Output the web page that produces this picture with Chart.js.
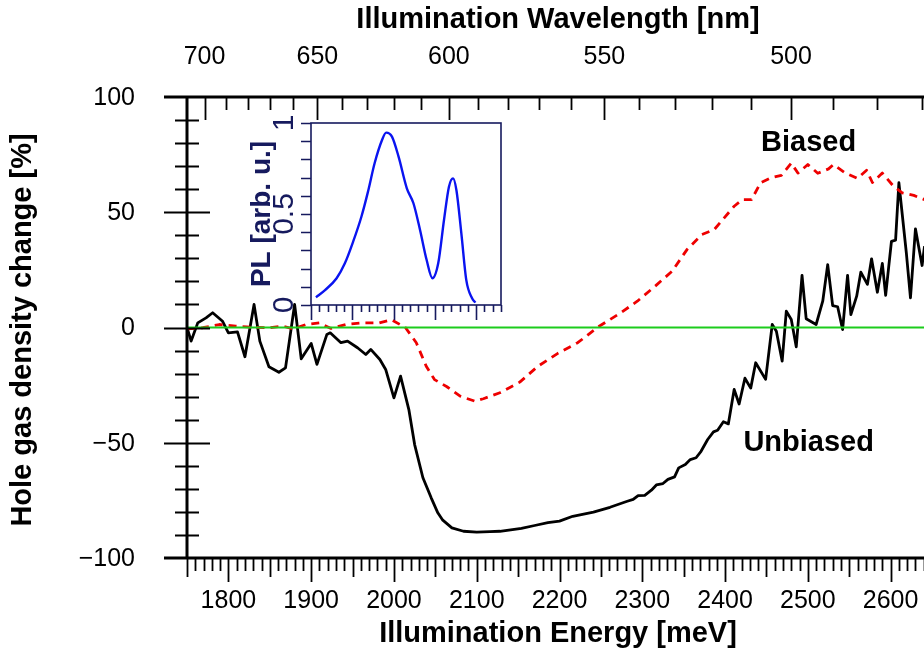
<!DOCTYPE html>
<html>
<head>
<meta charset="utf-8">
<script src="https://cdn.jsdelivr.net/npm/chart.js@4.4.1/dist/chart.umd.min.js"></script>
<style>
  html, body { margin: 0; padding: 0; background: #fff; overflow: hidden; }
  #wrap { position: relative; width: 960px; height: 651px; }
  #mainChart { position: absolute; left: 0; top: 0; }
  #plChart { position: absolute; left: 230px; top: 100px; }
</style>
</head>
<body>
<div id="wrap">
  <canvas id="mainChart" width="960" height="651"></canvas>
  <canvas id="plChart" width="290" height="240"></canvas>
</div>
<script>
// Unbiased sample (black): illumination energy [meV] and density change [%]
const unbiasedEnergy = [1750, 1755, 1763, 1773, 1781, 1793, 1800, 1811, 1820, 1831, 1838, 1849, 1861, 1869,
  1880, 1888, 1900, 1907, 1919, 1923, 1936, 1944, 1956, 1966, 1972, 1983, 1990, 2000, 2008, 2018, 2025,
  2035, 2045, 2053, 2059, 2070, 2084, 2100, 2116, 2128, 2154, 2170, 2186, 2200, 2216, 2241, 2261, 2281,
  2289, 2295, 2303, 2311, 2317, 2325, 2331, 2339, 2344, 2352, 2358, 2365, 2371, 2379, 2386, 2391, 2398,
  2404, 2411, 2417, 2424, 2431, 2437, 2449, 2457, 2462, 2469, 2474, 2480, 2486, 2493, 2498, 2510, 2518,
  2524, 2530, 2536, 2542, 2548, 2552, 2559, 2564, 2572, 2577, 2584, 2590, 2594, 2601, 2606, 2610, 2619,
  2624, 2630, 2638, 2641];
const unbiasedChange = [0, -5.9, 2, 4.2, 6.4, 2.7, -2.3, -1.9, -12.7, 10, -5.9, -17, -19.4, -17.5,
  10, -13.6, -6.9, -16, -3, -2.3, -6.6, -5.9, -8.8, -11.7, -9.5, -13.9, -18.2, -30.5, -21.1, -35.6, -50.8,
  -65.2, -73.9, -80.4, -83.6, -86.9, -88.4, -88.8, -88.6, -88.4, -87.1, -85.9, -84.7, -84, -81.9, -80.1, -78, -75.5,
  -74.6, -72.9, -72.8, -70.6, -68.3, -67.7, -65.9, -64.8, -60.9, -59.4, -57.3, -56.5, -53.7, -48.6, -45.3, -44.6, -40.9,
  -41.8, -26.9, -33.2, -22, -26.3, -15.3, -22.5, 1.3, -1.6, -14.6, 7.1, 3.5, -8.4, 22.6, 3.8, 1.3, 11.4,
  27.3, 9.5, 9, -0.9, 22.6, 5.6, 13.6, 24, 18.7, 29.8, 15.3, 27.8, 13.9, 37.4, 37.9, 62.8, 32.4,
  12.9, 42.8, 26.9, 35.3];

// Biased sample (red dashed)
const biasedEnergy = [1750, 1769, 1789, 1809, 1829, 1849, 1866, 1878, 1894, 1910, 1924, 1942, 1962, 1982,
  1997, 2014, 2027, 2039, 2049, 2064, 2080, 2098, 2108, 2128, 2152, 2174, 2198, 2222, 2247, 2274, 2294,
  2318, 2336, 2354, 2372, 2387, 2399, 2411, 2421, 2432, 2443, 2455, 2468, 2480, 2488, 2500, 2512, 2525,
  2531, 2545, 2560, 2571, 2578, 2590, 2603, 2614, 2628, 2641];
const biasedChange = [-0.6, -0.1, 1.3, 0.6, 0.1, -0.1, 0.6, -0.6, 1.3, 2, -0.4, 1.3, 2, 2,
  3.4, -0.1, -6.6, -16.8, -22.6, -25.7, -29.8, -32, -30.9, -28.3, -23.7, -16.8, -11.2, -6.6, 0.3, 6.4, 11.4,
  18.7, 24.4, 33.8, 40.3, 42.5, 47.6, 52.6, 55.5, 55.5, 62.8, 64.9, 66, 71.3, 67, 70.7, 66.9, 68.8,
  70.7, 67.1, 64.7, 68.2, 62.9, 67, 61.5, 58.4, 57.3, 55.5];

// Inset: photoluminescence spectrum
const plEnergy = [1906, 1917, 1931, 1941, 1951, 1961, 1969, 1977, 1986, 1991, 1998, 2006, 2016, 2024,
  2032, 2040, 2047, 2054, 2061, 2067, 2072, 2076, 2082, 2088, 2095, 2099];
const plIntensity = [0.042, 0.082, 0.147, 0.229, 0.348, 0.485, 0.623, 0.779, 0.907, 0.947, 0.925, 0.815,
  0.641, 0.559, 0.412, 0.247, 0.147, 0.229, 0.467, 0.65, 0.696, 0.632, 0.394, 0.137, 0.037, 0.013];

// Axis tick labels
const energyTicks = [1800, 1900, 2000, 2100, 2200, 2300, 2400, 2500, 2600];
const wavelengthTicks = [700, 650, 600, 550, 500];
const changeTicks = [100, 50, 0, -50, -100];
const plTicks = [0, 0.5, 1];

const HC = 1239842; // meV * nm
const FONT = '"Liberation Sans", Arial, sans-serif';
const NAVY = '#161a5e';

function pts(xs, ys) {
  return xs.map((x, i) => ({ x: x, y: ys[i] }));
}

// frame, ticks and labels of the main plot
const mainFrame = {
  id: 'mainFrame',
  afterDraw(chart) {
    const ctx = chart.ctx;
    const a = chart.chartArea;
    const xs = chart.scales.x, ys = chart.scales.y;
    ctx.save();
    ctx.strokeStyle = '#000';
    ctx.fillStyle = '#000';

    // axes lines
    ctx.lineWidth = 3;
    ctx.beginPath();
    ctx.moveTo(a.left, a.top); ctx.lineTo(a.left, a.bottom);
    ctx.moveTo(a.left - 23, a.top); ctx.lineTo(a.right, a.top);
    ctx.moveTo(a.left - 23, a.bottom); ctx.lineTo(a.right, a.bottom);
    ctx.stroke();

    ctx.lineWidth = 1.8;
    ctx.beginPath();
    // left ticks
    for (let v = -90; v <= 90; v += 10) {
      const y = Math.round(ys.getPixelForValue(v)) + 0.5;
      const len = v % 50 === 0 ? 23 : 12;
      ctx.moveTo(a.left - len, y); ctx.lineTo(a.left + len, y);
    }
    // bottom ticks
    for (let e = 1750; e <= 2650; e += 10) {
      const x = Math.round(xs.getPixelForValue(e)) + 0.5;
      const len = e % 100 === 0 ? 24 : (e % 50 === 0 ? 19 : 13);
      ctx.moveTo(x, a.bottom); ctx.lineTo(x, a.bottom + len);
    }
    // top ticks (wavelength)
    for (let w = 470; w <= 710; w += 10) {
      const e = HC / w;
      if (e < xs.min || e > xs.max) continue;
      const x = Math.round(xs.getPixelForValue(e)) + 0.5;
      const len = w % 50 === 0 ? 23 : 13;
      ctx.moveTo(x, a.top); ctx.lineTo(x, a.top + len);
    }
    ctx.stroke();

    // tick labels
    ctx.font = '25px ' + FONT;
    ctx.textAlign = 'center';
    ctx.textBaseline = 'middle';
    energyTicks.forEach(e => ctx.fillText(String(e), xs.getPixelForValue(e), 601));
    wavelengthTicks.forEach(w => ctx.fillText(String(w), xs.getPixelForValue(HC / w), 57));
    ctx.textAlign = 'right';
    changeTicks.forEach(v => {
      const s = v < 0 ? '\u2212' + Math.abs(v) : String(v);
      ctx.fillText(s, 135, ys.getPixelForValue(v) + 1);
    });

    // titles
    ctx.font = 'bold 29px ' + FONT;
    ctx.textAlign = 'center';
    ctx.fillText('Illumination Energy [meV]', 558, 634);
    ctx.fillText('Illumination Wavelength [nm]', 558, 20);
    ctx.save();
    ctx.translate(23, 330);
    ctx.rotate(-Math.PI / 2);
    ctx.fillText('Hole gas density change [%]', 0, 0);
    ctx.restore();

    // curve labels
    ctx.font = 'bold 29px ' + FONT;
    ctx.fillText('Biased', xs.getPixelForValue(2501), ys.getPixelForValue(80));
    ctx.fillText('Unbiased', xs.getPixelForValue(2501), ys.getPixelForValue(-50));
    ctx.restore();
  }
};

new Chart(document.getElementById('mainChart'), {
  type: 'line',
  data: {
    datasets: [{
      label: 'zero',
      data: pts([1750, 2650], [0, 0]),
      borderColor: '#1ccc1c',
      borderWidth: 2
    }, {
      label: 'Biased',
      data: pts(biasedEnergy, biasedChange),
      borderColor: '#ee0000',
      borderWidth: 2.8,
      borderDash: [8, 6]
    }, {
      label: 'Unbiased',
      data: pts(unbiasedEnergy, unbiasedChange),
      borderColor: '#000000',
      borderWidth: 2.8
    }]
  },
  options: {
    responsive: false,
    animation: false,
    devicePixelRatio: 1,
    layout: { padding: { left: 187, top: 97, right: 28, bottom: 93 } },
    elements: { point: { radius: 0 }, line: { tension: 0, borderJoinStyle: 'round' } },
    plugins: { legend: { display: false }, tooltip: { enabled: false } },
    scales: {
      x: { type: 'linear', min: 1750, max: 2650, display: false },
      y: { min: -100, max: 100, display: false }
    }
  },
  plugins: [mainFrame]
});

// frame and labels of the PL inset
const insetFrame = {
  id: 'insetFrame',
  afterDraw(chart) {
    const ctx = chart.ctx;
    const a = chart.chartArea;
    const xs = chart.scales.x, ys = chart.scales.y;
    ctx.save();
    ctx.strokeStyle = NAVY;
    ctx.fillStyle = NAVY;
    ctx.lineWidth = 1.6;
    ctx.strokeRect(a.left, a.top, a.right - a.left, a.bottom - a.top);
    ctx.beginPath();
    for (let e = 1900; e <= 2130; e += 10) {
      const x = Math.round(xs.getPixelForValue(e)) + 0.5;
      const len = e % 50 === 0 ? 15 : 7;
      ctx.moveTo(x, a.bottom); ctx.lineTo(x, a.bottom + len);
    }
    for (let i = 0; i <= 10; i++) {
      const y = Math.round(ys.getPixelForValue(i / 10)) + 0.5;
      ctx.moveTo(a.left - 10, y); ctx.lineTo(a.left, y);
    }
    ctx.stroke();

    ctx.textAlign = 'center';
    ctx.textBaseline = 'middle';
    ctx.font = '30px ' + FONT;
    plTicks.forEach(v => {
      ctx.save();
      ctx.translate(a.left - 26, ys.getPixelForValue(v));
      ctx.rotate(-Math.PI / 2);
      ctx.fillText(String(v), 0, 0);
      ctx.restore();
    });
    ctx.font = 'bold 28px ' + FONT;
    ctx.save();
    ctx.translate(32, 114);
    ctx.rotate(-Math.PI / 2);
    ctx.fillText('PL [arb. u.]', 0, 0);
    ctx.restore();
    ctx.restore();
  }
};

new Chart(document.getElementById('plChart'), {
  type: 'line',
  data: {
    datasets: [{
      label: 'PL',
      data: pts(plEnergy, plIntensity),
      borderColor: '#0a14f0',
      borderWidth: 2.4,
      tension: 0.4,
      cubicInterpolationMode: 'monotone'
    }]
  },
  options: {
    responsive: false,
    animation: false,
    devicePixelRatio: 1,
    layout: { padding: { left: 81, top: 23, right: 19, bottom: 35 } },
    elements: { point: { radius: 0 } },
    plugins: { legend: { display: false }, tooltip: { enabled: false } },
    scales: {
      x: { type: 'linear', min: 1900, max: 2130, display: false },
      y: { min: 0, max: 1, display: false }
    }
  },
  plugins: [insetFrame]
});
</script>
</body>
</html>
